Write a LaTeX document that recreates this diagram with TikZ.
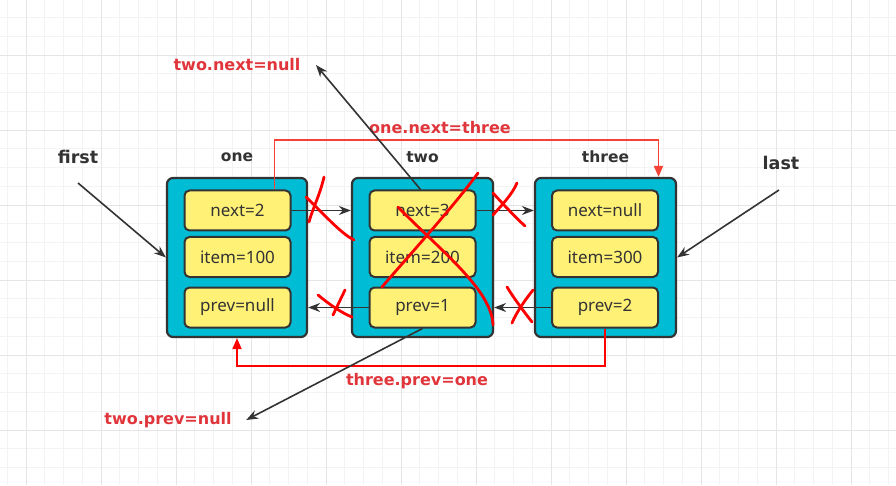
\documentclass[tikz,border=0pt]{standalone}
\usepackage{fontspec}
\setmainfont{Noto Sans}
\newfontfamily\labelfont{DejaVu Sans}
\usetikzlibrary{arrows.meta, positioning}
\definecolor{ink}{HTML}{333333}
\definecolor{cyanA}{HTML}{00BCD4}
\definecolor{yellowA}{HTML}{FFF176}
\definecolor{redA}{HTML}{F44336}
\definecolor{redB}{HTML}{FF0000}
\definecolor{redT}{HTML}{E0353B}
\definecolor{gridA}{HTML}{F3F3F3}
\definecolor{gridB}{HTML}{E5E5E5}
\tikzset{
  nodebox/.style={rounded corners=6pt, draw=ink, line width=2.2pt, fill=cyanA, minimum width=140pt, minimum height=159pt},
  field/.style={rounded corners=5pt, draw=ink, line width=2pt, fill=yellowA, minimum width=106pt, minimum height=40pt, inner sep=0pt, font=\fontsize{17}{19}\selectfont, text=ink},
  boxname/.style={font=\labelfont\bfseries\fontsize{15.5}{18}\selectfont, text=ink},
  pointer/.style={font=\labelfont\bfseries\fontsize{17.5}{20}\selectfont, text=ink},
  redlabel/.style={font=\labelfont\bfseries\fontsize{16}{19}\selectfont, text=redT},
  link/.style={draw=ink, line width=1.6pt, -{Stealth[length=12pt,width=9pt]}},
  redlink/.style={line width=1.8pt, -{Triangle[length=11pt,width=9pt]}},
  cross/.style={draw=redB, line width=2.8pt, line cap=round}
}

\begin{document}
\begin{tikzpicture}[x=1pt,y=1pt]
\useasboundingbox (0,0) rectangle (896,485);

% grid paper
\fill[white] (0,0) rectangle (896,485);
\draw[gridA, line width=0.8pt, step=18.75pt, shift={(7.25,17.5)}] (-7.25,-17.5) grid (888.75,467.5);
\draw[gridB, line width=0.8pt, step=75pt, shift={(26,55)}] (-26,-55) grid (870,430);

% list nodes
\node[nodebox] (one) at (237,227.5) {};
\node[nodebox, minimum width=141pt] (two) at (422.5,227.5) {};
\node[nodebox, minimum width=141pt] (three) at (605.5,227.5) {};

\node[boxname] (onename) at (237,328) {one};
\node[boxname] (twoname) at (422.5,328) {two};
\node[boxname] (threename) at (605.5,328) {three};

\node[field] (onenext) at (237.5,274.5) {next=2};
\node[field] (oneitem) at (237.5,228) {item=100};
\node[field] (oneprev) at (237.5,177.5) {prev=null};

\node[field] (twonext) at (422.5,274.5) {next=3};
\node[field] (twoitem) at (422.5,228) {item=200};
\node[field] (twoprev) at (422.5,177.5) {prev=1};

\node[field] (threenext) at (605,274.5) {next=null};
\node[field] (threeitem) at (605,228) {item=300};
\node[field] (threeprev) at (605,177.5) {prev=2};

% pointers
\node[pointer] (first) at (78,328) {first};
\node[pointer] (last) at (781,322) {last};
\coordinate (firsttail) at (78,302);
\coordinate (lasttail) at (779,295);
\draw[link] (firsttail) -- (one.west);
\draw[link] (lasttail) -- (three.east);

% old links
\draw[link] (onenext.east) -- (onenext.east -| two.west);
\draw[link] (twonext.east) -- (twonext.east -| three.west);
\draw[link] (twoprev.west) -- (twoprev.west -| one.east);
\draw[link] (threeprev.west) -- (threeprev.west -| two.east);

% new links
\node[redlabel] (onenextlbl) at (440,357) {one.next=three};
\node[redlabel] (threeprevlbl) at (417,104) {three.prev=one};
\draw[redlink, redA] ([xshift=37pt]onenext.north) -- ++(0,49.5) -| ([xshift=53pt]three.north);
\draw[redlink, redB] (threeprev.south) -- ++(0,-37.5) -| (one.south);

\node[redlabel] (twonextnull) at (237,420) {two.next=null};
\node[redlabel] (twoprevnull) at (168,65) {two.prev=null};
\draw[link] ([xshift=-2pt]twonext.north) -- ([xshift=12pt]twonextnull.east);
\draw[link] (twoprev.south) -- ([xshift=11pt]twoprevnull.east);

% crossed out
\draw[cross] (324,308) .. controls (320,290) and (312,275) .. (309,263);
\draw[cross] (306,288) .. controls (322,273) and (340,252) .. (354,245);
\draw[cross] (493,292) .. controls (503,281) and (515,268) .. (525,259);
\draw[cross] (517,302) .. controls (512,290) and (500,278) .. (493,270);
\draw[cross] (478,312) .. controls (455,280) and (405,225) .. (382,198);
\draw[cross] (398,278) .. controls (440,235) and (492,195) .. (493,160);
\draw[cross] (318,190) .. controls (330,180) and (342,172) .. (352,168);
\draw[cross] (345,195) -- (333,170);
\draw[cross] (507,198) .. controls (515,185) and (525,172) .. (532,163);
\draw[cross] (533,195) .. controls (525,185) and (516,172) .. (512,162);

\end{tikzpicture}
\end{document}
